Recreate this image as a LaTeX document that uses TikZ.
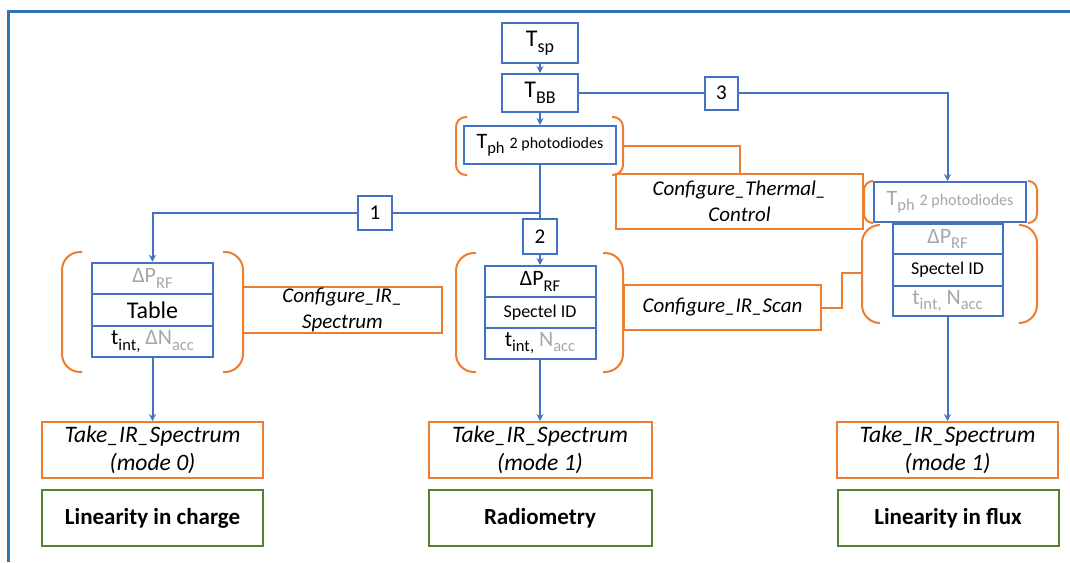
\documentclass[tikz,border=0pt]{standalone}
\usepackage{fontspec}
\setmainfont{Carlito}
\usetikzlibrary{arrows.meta}
\definecolor{cblue}{RGB}{68,114,196}
\definecolor{cframe}{RGB}{46,117,182}
\definecolor{corange}{RGB}{237,125,49}
\definecolor{cgreen}{RGB}{84,130,53}
\definecolor{cgray}{RGB}{166,166,166}
\newcommand{\lsub}[1]{\raisebox{-0.5ex}{\scalebox{0.75}{#1}}}
\begin{document}
\begin{tikzpicture}[x=0.5pt,y=-0.5pt,
  bbox/.style={draw=cblue, line width=1pt, inner sep=0pt, align=center},
  obox/.style={draw=corange, line width=1pt, inner sep=0pt, align=center, font=\fontsize{11.8}{13.8}\selectfont\itshape},
  cbox/.style={obox, font=\fontsize{10.5}{13}\selectfont\itshape},
  gbox/.style={draw=cgreen, line width=1pt, inner sep=0pt, align=center, minimum height=28pt, font=\fontsize{11.5}{13}\selectfont\bfseries},
  bline/.style={draw=cblue, line width=1pt},
  barrow/.style={bline, -{Stealth[length=3.5pt,width=3.5pt]}},
  oline/.style={draw=corange, line width=1pt},
  brk/.style={draw=corange, line width=1pt, rounded corners=#1},
  brk/.default=9pt,
  fmain/.style={font=\fontsize{10.5}{12}\selectfont},
  ftemp/.style={font=\fontsize{12}{14}\selectfont},
  fstack/.style={font=\fontsize{11}{12}\selectfont},
]
\useasboundingbox (0,0) rectangle (1070,562);
% outer frame
\draw[cframe, line width=1.5pt] (8,562) -- (8,11) -- (1070,11);

% top column
\node[bbox, ftemp, minimum width=38pt, minimum height=20pt] (tsp) at (540,43) {T\lsub{sp}};
\node[bbox, ftemp, minimum width=38pt, minimum height=19pt] (tbb) at (540,93) {T\lsub{BB}};
\node[bbox, minimum width=76pt, minimum height=19pt] (tph) at (540,145)
  {\fontsize{11}{12}\selectfont T\lsub{ph} \fontsize{8}{10}\selectfont 2 photodiodes};
\draw[brk=5pt] (467,117) -- (456,117) -- (456,175) -- (467,175);
\draw[brk=5pt] (612,117) -- (623,117) -- (623,175) -- (612,175);
\coordinate (tphbr) at (623,146);

\node[bbox, fmain, minimum size=16.5pt] (n3) at (721.5,93) {3};
\node[cbox, minimum width=123.5pt, minimum height=27.5pt] (ctc) at (739.5,201.5) {Configure\_Thermal\_\\Control};

% right column
\node[bbox, minimum width=76pt, minimum height=20pt, text=cgray] (tphr) at (950,202)
  {\fontsize{11}{12}\selectfont T\lsub{ph} \fontsize{8}{10}\selectfont 2 photodiodes};
\draw[brk=4.5pt] (873,181) -- (864,181) -- (864,223) -- (873,223);
\draw[brk=4.5pt] (1028,181) -- (1037,181) -- (1037,223) -- (1028,223);
\node[bbox, fstack, minimum width=55pt, minimum height=15pt, text=cgray] (r1) at (947.5,239) {ΔP\lsub{RF}};
\node[bbox, minimum width=55pt, minimum height=16pt, font=\fontsize{9}{11}\selectfont] (r2) at (947.5,270) {Spectel ID};
\node[bbox, fstack, minimum width=55pt, minimum height=15pt, text=cgray] (r3) at (947.5,301) {t\lsub{int,} N\lsub{acc}};
\draw[brk] (880,225) -- (862,225) -- (862,323) -- (880,323);
\draw[brk] (1020,225) -- (1037,225) -- (1037,323) -- (1020,323);
\coordinate (rbl) at (862,273);

% numbered boxes
\node[bbox, fmain, minimum size=17pt] (n1) at (375,213) {1};
\node[bbox, fmain, minimum width=17pt, minimum height=17.5pt] (n2) at (540,236.5) {2};
\coordinate (j) at (540,213);

% left stack
\node[bbox, fstack, minimum width=60.5pt, minimum height=15.75pt, text=cgray] (l1) at (152.5,278.5) {ΔP\lsub{RF}};
\node[bbox, minimum width=60.5pt, minimum height=15.75pt, font=\fontsize{12}{14}\selectfont] (l2) at (152.5,310) {Table};
\node[bbox, fstack, minimum width=60.5pt, minimum height=15.75pt] (l3) at (152.5,341.5) {t\lsub{int,} \textcolor{cgray}{ΔN\lsub{acc}}};
\draw[brk] (82,252) -- (62,252) -- (62,372) -- (82,372);
\draw[brk] (223,252) -- (243,252) -- (243,372) -- (223,372);
\node[cbox, minimum width=99.5pt, minimum height=23pt] (cirs) at (342.5,310) {Configure\_IR\_\\Spectrum};

% middle stack
\node[bbox, fstack, minimum width=55.5pt, minimum height=15.5pt] (m1) at (540,281.5) {ΔP\lsub{RF}};
\node[bbox, minimum width=55.5pt, minimum height=15.5pt, font=\fontsize{9}{11}\selectfont] (m2) at (540,312.5) {Spectel ID};
\node[bbox, fstack, minimum width=55.5pt, minimum height=15.5pt] (m3) at (540,343) {t\lsub{int,} \textcolor{cgray}{N\lsub{acc}}};
\draw[brk] (476,253) -- (456,253) -- (456,372) -- (476,372);
\draw[brk] (603,253) -- (623,253) -- (623,372) -- (603,372);
\node[cbox, minimum width=98.5pt, minimum height=22.5pt] (cscan) at (722.5,307.5) {Configure\_IR\_Scan};

% bottom row
\node[obox, minimum width=110.5pt, minimum height=28pt] (take0) at (152.5,450) {Take\_IR\_Spectrum\\(mode 0)};
\node[obox, minimum width=111.5pt, minimum height=28pt] (take1) at (540,450) {Take\_IR\_Spectrum\\(mode 1)};
\node[obox, minimum width=110.5pt, minimum height=28pt] (take2) at (947.5,450) {Take\_IR\_Spectrum\\(mode 1)};
\node[gbox, minimum width=110.5pt] (g0) at (152.5,518) {Linearity in charge};
\node[gbox, minimum width=111.5pt] (g1) at (540,518) {Radiometry};
\node[gbox, minimum width=110.5pt] (g2) at (948,518) {Linearity in flux};

% blue connectors
\draw[barrow] (tsp) -- (tbb);
\draw[barrow] (tbb) -- (tph);
\draw[bline] (tbb.east) -- (n3.west);
\draw[barrow] (n3.east) -| (r1.north |- tphr.north);
\draw[bline] (tph.south) -- (n2.north);
\draw[bline] (j) -- (n1.east);
\draw[barrow] (n1.west) -| (l1.north);
\draw[barrow] (n2) -- (m1);
\draw[barrow] (l3) -- (take0);
\draw[barrow] (m3) -- (take1);
\draw[barrow] (r3) -- (take2);

% orange connectors
\draw[oline] (tphbr) -| (ctc.north);
\draw[oline] (cscan.east) -- ++(20,0) |- (rbl);
\end{tikzpicture}
\end{document}
